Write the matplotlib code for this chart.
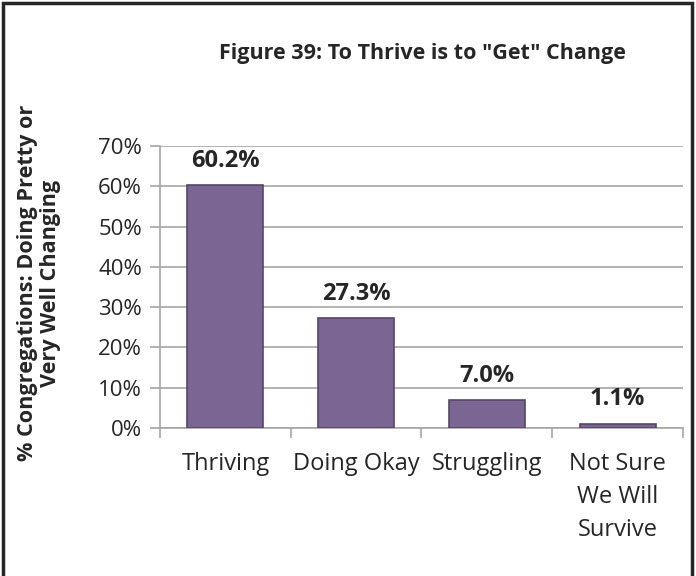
import matplotlib
matplotlib.use("Agg")
import matplotlib.pyplot as plt
from matplotlib.patches import Rectangle

categories = ["Thriving", "Doing Okay", "Struggling", "Not Sure\nWe Will\nSurvive"]
values = [60.2, 27.3, 7.0, 1.1]
value_labels = ["60.2%", "27.3%", "7.0%", "1.1%"]
yticks = [0, 10, 20, 30, 40, 50, 60, 70]

plt.rcParams['font.family'] = ['Open Sans', 'DejaVu Sans']

fig = plt.figure(figsize=(6.96, 5.76), dpi=100)
ax = fig.add_axes([160/696, 1-428/576, (683-160)/696, (428-146)/576])

x = list(range(len(categories)))
ax.bar(x, values, width=0.58, color="#7B6593", edgecolor="#56456B", linewidth=1.2, zorder=3)
for xi, v, lab in zip(x, values, value_labels):
    ax.text(xi, v + 6.0, lab, ha="center", va="center", fontsize=17, fontweight="bold", color="#262626")

ax.set_xlim(-0.5, len(categories) - 0.5)
ax.set_ylim(0, 70)
ax.set_yticks(yticks)
ax.set_yticklabels([f"{t}%" for t in yticks], fontsize=16, color="#262626")
ax.yaxis.grid(True, color="#A6A6A6", linewidth=1.2, zorder=0)
ax.set_xticks([i + 0.5 for i in range(-1, len(categories))])
ax.set_xticklabels([])
ax.set_xticks(x, minor=True)
ax.set_xticklabels(categories, minor=True, fontsize=17, color="#262626", linespacing=1.5)
ax.tick_params(axis="x", which="minor", length=0, pad=17)
ax.tick_params(axis="x", which="major", length=7, color="#A6A6A6", width=1.2)
ax.tick_params(axis="y", length=7, color="#A6A6A6", width=1.2, pad=6)
for s in ["top", "right"]:
    ax.spines[s].set_visible(False)
for s in ["left", "bottom"]:
    ax.spines[s].set_color("#A6A6A6")
    ax.spines[s].set_linewidth(1.2)

fig.text(422/696, 1-53/576, 'Figure 39: To Thrive is to "Get" Change', ha="center", va="center",
         fontsize=15.5, fontweight="bold", color="#262626")
fig.text(39/696, 1-283/576, "% Congregations: Doing Pretty or\nVery Well Changing", rotation=90,
         ha="center", va="center", fontsize=15.6, fontweight="bold", color="#262626", linespacing=1.15)

fig.patches.append(Rectangle((3/696, -0.05), (692-3)/696, 1.05 - 3/576, transform=fig.transFigure,
                             fill=False, edgecolor="#262626", linewidth=2.5))

fig.savefig("out.png", dpi=100)
